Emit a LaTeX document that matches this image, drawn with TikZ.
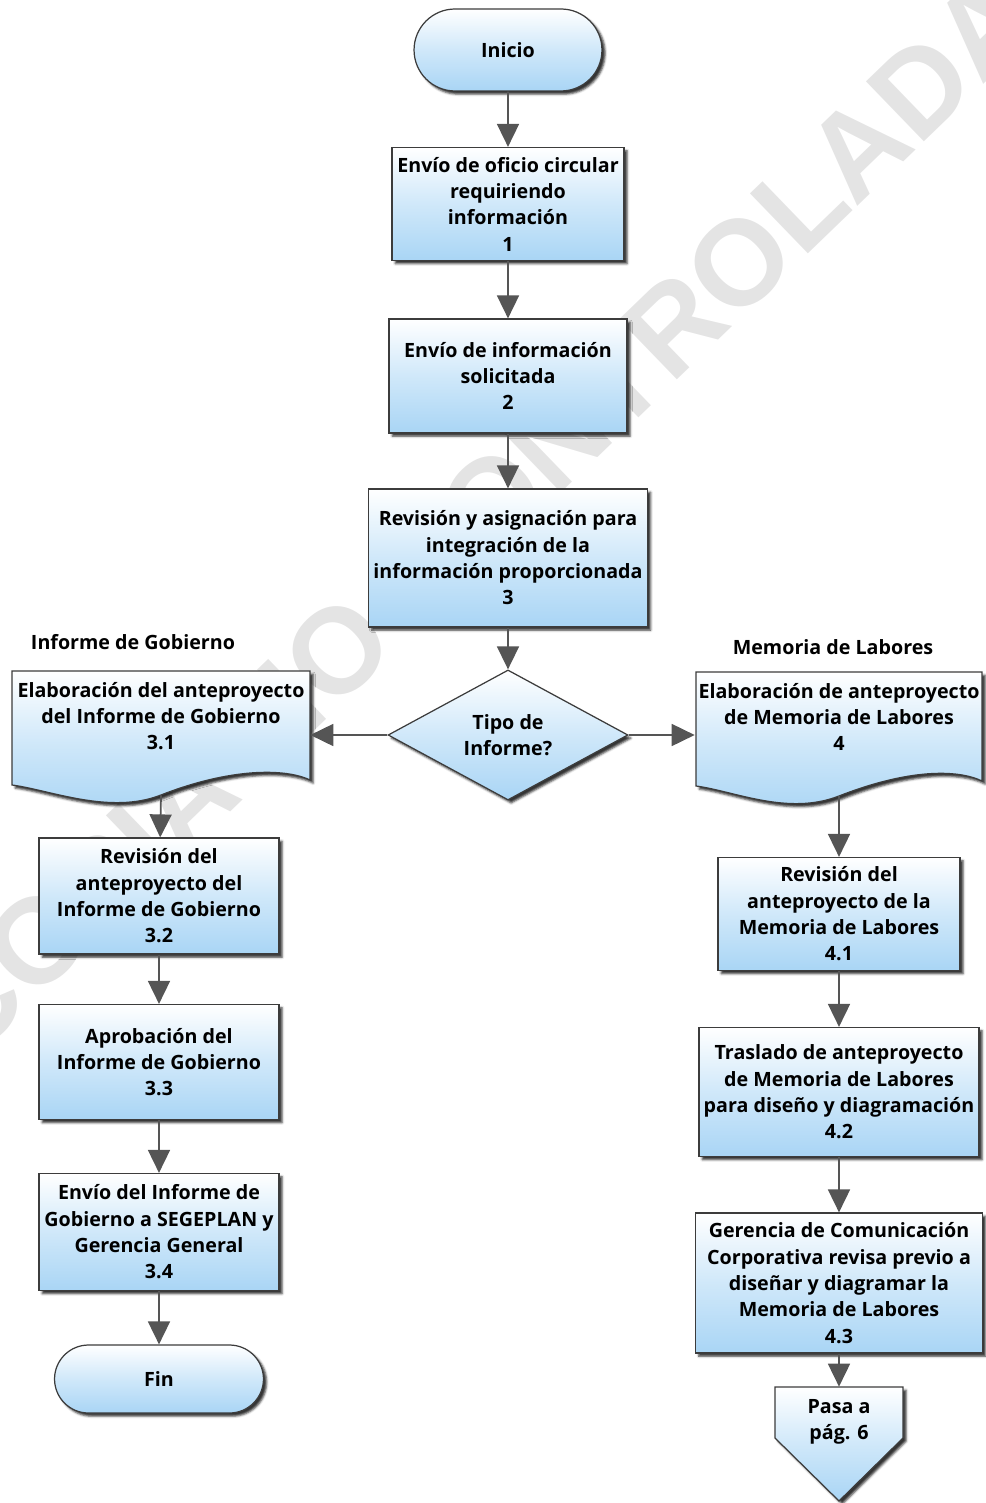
\documentclass[tikz,border=0pt]{standalone}
\usepackage{fontspec}
\setmainfont{Open Sans}
\newfontfamily\markfont{Liberation Sans}
\usepackage{tikz}
\usetikzlibrary{shapes.geometric,shapes.misc,arrows.meta,calc,shadows.blur}
\definecolor{boxblue}{HTML}{A9D5F5}
\definecolor{edgegray}{HTML}{3C3C3C}
\definecolor{flowgray}{HTML}{555555}
\definecolor{markgray}{HTML}{E4E4E4}

% document box with a wavy bottom; #1 centre, #2 half width
\newcommand\docshape[2]{%
  \path[shade box] ($(#1)+(-#2,-45)$) -- ($(#1)+(#2,-45)$) -- ($(#1)+(#2,64)$)
    .. controls ($(#1)+(#2-25,52)$) and ($(#1)+(69,52)$) .. ($(#1)+(0,79)$)
    .. controls ($(#1)+(-51,99)$) and ($(#1)+(38-#2,74)$) .. ($(#1)+(-#2,69)$) -- cycle;}

\begin{document}
\begin{tikzpicture}[x=0.02cm,y=-0.02cm,font=\fontsize{11.2}{15}\selectfont\bfseries,
  glass/.style={top color=white,bottom color=boxblue,middle color=boxblue!55},
  shade box/.style={glass,draw=edgegray,line width=0.7pt,
    blur shadow={shadow xshift=1.8pt,shadow yshift=-1.8pt,shadow blur steps=3,shadow blur radius=1.2pt,shadow opacity=80}},
  proc/.style={shade box,rectangle,align=center,inner sep=2pt},
  term/.style={shade box,rounded rectangle,inner sep=2pt},
  deci/.style={shade box,diamond,align=center,inner sep=0pt},
  doctext/.style={rectangle,align=center,inner sep=2pt},
  arr/.style={flowgray,line width=1pt,-{Triangle[length=0.46cm,width=0.44cm]}}]
\useasboundingbox (0,0) rectangle (986,1503);
% watermark first, so it lies under everything
\node[markgray,font=\markfont\bfseries\fontsize{69}{72}\selectfont,rotate=44] (mark) at (478,515) {COPIA NO CONTROLADA};

% centre column
\node[term,minimum width=3.9cm,minimum height=1.64cm] (ini) at (508,50) {Inicio};
\node[proc,minimum width=4.64cm,minimum height=2.26cm] (b1) at (508,204) {Envío de oficio circular\\requiriendo\\información\\1};
\node[proc,minimum width=4.76cm,minimum height=2.28cm] (b2) at (508,376) {Envío de información\\solicitada\\2};
\node[proc,minimum width=5.58cm,minimum height=2.76cm] (b3) at (508,558) {Revisión y asignación para\\integración de la\\información proporcionada\\3};
\node[deci,minimum width=4.8cm,minimum height=2.3cm] (dec) at (508,735) {Tipo de\\Informe?};

% left branch
\node (lblig) at (133,642) {Informe de Gobierno};
\coordinate (d31c) at (161,716);
\docshape{d31c}{149}
\node[doctext,minimum width=5.96cm,minimum height=1.8cm] (d31) at (d31c) {Elaboración del anteproyecto\\del Informe de Gobierno\\3.1};
\coordinate (d31b) at ($(d31.south)+(0,34)$);
\node[proc,minimum width=4.8cm,minimum height=2.32cm] (b32) at (159,896) {Revisión del\\anteproyecto del\\Informe de Gobierno\\3.2};
\node[proc,minimum width=4.8cm,minimum height=2.3cm] (b33) at (159,1062) {Aprobación del\\Informe de Gobierno\\3.3};
\node[proc,minimum width=4.8cm,minimum height=2.34cm] (b34) at (159,1232) {Envío del Informe de\\Gobierno a SEGEPLAN y\\Gerencia General\\3.4};
\node[term,minimum width=4.32cm,minimum height=1.36cm] (fin) at (159,1379) {Fin};

% right branch
\node (lblml) at (833,647) {Memoria de Labores};
\coordinate (d4c) at (839,717);
\docshape{d4c}{143}
\node[doctext,minimum width=5.72cm,minimum height=1.8cm] (d4) at (d4c) {Elaboración de anteproyecto\\de Memoria de Labores\\4};
\coordinate (d4b) at ($(d4.south)+(0,34)$);
\node[proc,minimum width=4.84cm,minimum height=2.26cm] (b41) at (839,914) {Revisión del\\anteproyecto de la\\Memoria de Labores\\4.1};
\node[proc,minimum width=5.6cm,minimum height=2.58cm] (b42) at (839,1092) {Traslado de anteproyecto\\de Memoria de Labores\\para diseño y diagramación\\4.2};
\node[proc,minimum width=5.74cm,minimum height=2.8cm] (b43) at (839,1283) {Gerencia de Comunicación\\Corporativa revisa previo a\\diseñar y diagramar la\\Memoria de Labores\\4.3};
\coordinate (pasac) at (839,1422);
\path[shade box] ($(pasac)+(-64,-35)$) -- ($(pasac)+(64,-35)$) -- ($(pasac)+(64,16)$)
  -- ($(pasac)+(0,79)$) -- ($(pasac)+(-64,16)$) -- cycle;
\node[doctext,minimum width=2.56cm,minimum height=1.4cm] (pasa) at (pasac) {Pasa a\\pág. 6};

% connectors
\foreach \a/\b in {ini/b1,b1/b2,b2/b3,b3/dec,d31b/b32,b32/b33,b33/b34,b34/fin,d4b/b41,b41/b42,b42/b43,b43/pasa}
  \draw[arr] (\a) -- (\b);
\draw[arr] (dec.west) -- (dec.west -| d31.east);
\draw[arr] (dec.east) -- (dec.east -| d4.west);
\end{tikzpicture}
\end{document}
